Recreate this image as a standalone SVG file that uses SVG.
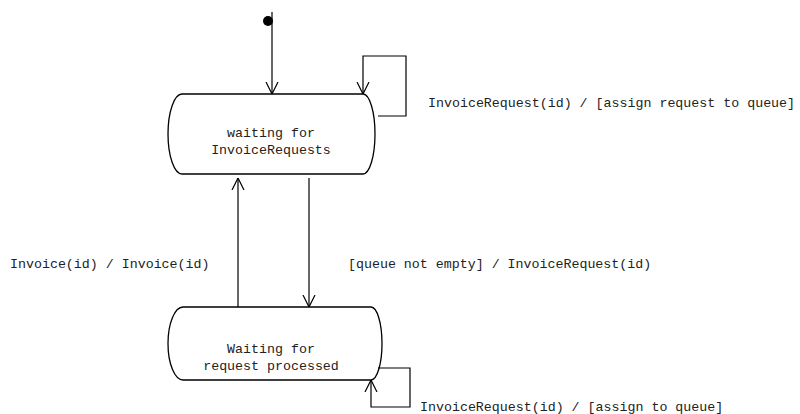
<svg xmlns="http://www.w3.org/2000/svg" width="800" height="414" viewBox="0 0 800 414">
<defs>
<style>
.st{fill:#fff;stroke:#000;stroke-width:1.3}
.ln{fill:none;stroke:#000;stroke-width:1.2}
text{font-family:"Liberation Mono","Courier New",monospace;font-size:13.3px;fill:#222}
.c{text-anchor:middle}
</style>
<marker id="v" viewBox="0 0 12 14" refX="12" refY="7" markerWidth="12" markerHeight="14" markerUnits="userSpaceOnUse" orient="auto">
<path d="M0,1 L12,7 L0,13" fill="none" stroke="#000" stroke-width="1.2"/>
</marker>
</defs>
<rect width="800" height="414" fill="#fff"/>
<g id="initial"><circle cx="268" cy="21" r="5" fill="#000"/></g>
<g id="waiting-invoice-requests">
<path class="st" d="M182,94 L363,94 A12,40 0 0 1 363,174 L182,174 A14,40 0 0 1 182,94 Z"/>
<text class="c" x="271" y="137">waiting for</text>
<text class="c" x="271" y="154">InvoiceRequests</text>
</g>
<g id="waiting-request-processed">
<path class="st" d="M183,307 L371,307 A11,36.5 0 0 1 371,380 L183,380 A15,36.5 0 0 1 183,307 Z"/>
<text class="c" x="271" y="353">Waiting for</text>
<text class="c" x="271" y="370">request processed</text>
</g>
<g id="connectors">
<path class="ln" d="M272,12 L272,94" marker-end="url(#v)"/>
<path class="ln" d="M378,116 L406,116 L406,56 L363,56 L363,94" marker-end="url(#v)"/>
<path class="ln" d="M309,178 L309,307" marker-end="url(#v)"/>
<path class="ln" d="M238,307 L238,178" marker-end="url(#v)"/>
<path class="ln" d="M378,368 L410,368 L410,407 L371,407 L371,380" marker-end="url(#v)"/>
</g>
<g id="labels">
<text x="428" y="107">InvoiceRequest(id) / [assign request to queue]</text>
<text x="10" y="268">Invoice(id) / Invoice(id)</text>
<text x="348" y="268">[queue not empty] / InvoiceRequest(id)</text>
<text x="420" y="411">InvoiceRequest(id) / [assign to queue]</text>
</g>
</svg>
